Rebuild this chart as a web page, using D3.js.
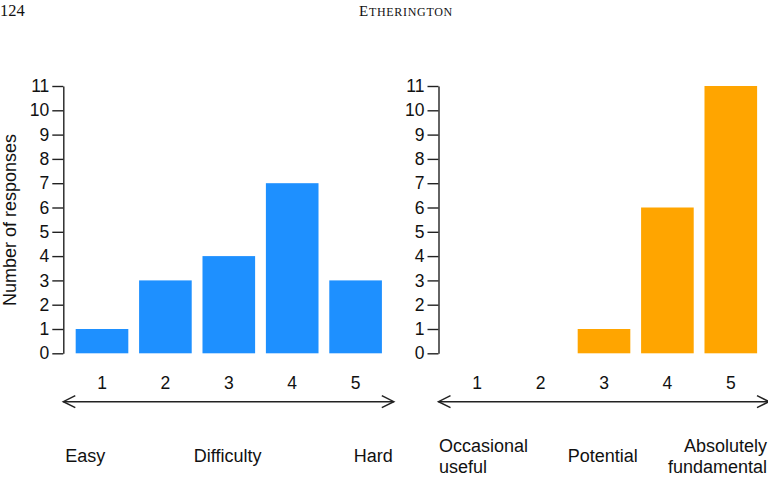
<!DOCTYPE html>
<html>
<head>
<meta charset="utf-8">
<script src="https://cdn.jsdelivr.net/npm/d3@7"></script>
<style>
  body { margin: 0; background: #fff; }
  svg text { font-family: "Liberation Sans", Arial, sans-serif; fill: #111; }
  .page-head text { font-family: "Liberation Serif", "Times New Roman", serif; }
  .axis path, .axis line { stroke: #222; stroke-width: 1.4; }
  .axis text { font-size: 17.5px; fill: #111; }
</style>
</head>
<body>
<svg id="chart"></svg>
<script>
// data
const categories = ['1', '2', '3', '4', '5'];
const difficultyCounts = [1, 3, 4, 7, 3];
const importanceCounts = [0, 0, 1, 6, 11];
const yTickValues = [0, 1, 2, 3, 4, 5, 6, 7, 8, 9, 10, 11];
const difficultyLabels = ['Easy', 'Difficulty', 'Hard'];
const importanceLabels = [['Occasional', 'useful'], ['Potential'], ['Absolutely', 'fundamental']];

const width = 768, height = 484;
const svg = d3.select('#chart').attr('width', width).attr('height', height);

// running header of the page
const head = svg.append('g').attr('class', 'page-head');
head.append('text').attr('x', 0).attr('y', 15.5).style('font-size', '16.5px').text('124');
const runner = head.append('text')
    .attr('x', 406).attr('y', 15.5)
    .attr('text-anchor', 'middle')
    .style('letter-spacing', '0.7px');
runner.append('tspan').style('font-size', '15px').text('E');
runner.append('tspan').style('font-size', '12px').text('THERINGTON');

const yScale = d3.scaleLinear().domain([0, 11]).range([353.3, 86]);

function drawPanel(axisX, counts, color) {
  const xScale = d3.scaleBand()
      .domain(categories)
      .range([axisX + 7, axisX + 324])
      .paddingInner(0.17)
      .paddingOuter(0.085);

  const g = svg.append('g');

  // y axis
  g.append('g')
      .attr('class', 'axis')
      .attr('transform', `translate(${axisX},0)`)
      .call(d3.axisLeft(yScale).tickValues(yTickValues).tickSize(11).tickSizeOuter(0).tickPadding(3));
  g.selectAll('.axis .domain').attr('fill', 'none');

  // bars
  const rows = categories.map((c, i) => ({ key: c, count: counts[i] }));
  g.selectAll('.bar')
      .data(rows.filter(d => d.count > 0))
      .join('rect')
      .attr('class', 'bar')
      .attr('x', d => xScale(d.key))
      .attr('width', xScale.bandwidth())
      .attr('y', d => yScale(d.count))
      .attr('height', d => yScale(0) - yScale(d.count))
      .attr('fill', color);

  // category numbers under the bars
  g.selectAll('.cat')
      .data(categories)
      .join('text')
      .attr('class', 'cat')
      .attr('x', d => xScale(d) + xScale.bandwidth() / 2)
      .attr('y', 383)
      .attr('dominant-baseline', 'central')
      .attr('text-anchor', 'middle')
      .style('font-size', '17.5px')
      .text(d => d);

  // double headed arrow
  const ay = 401.7, x0 = axisX, x1 = axisX + 330.5;
  const arrow = g.append('g').attr('fill', 'none').attr('stroke', '#222').attr('stroke-width', 1.5);
  arrow.append('line').attr('x1', x0).attr('x2', x1).attr('y1', ay).attr('y2', ay);
  arrow.append('path').attr('d', `M${x0 + 12},${ay - 6}L${x0},${ay}L${x0 + 12},${ay + 6}`);
  arrow.append('path').attr('d', `M${x1 - 12},${ay - 6}L${x1},${ay}L${x1 - 12},${ay + 6}`);

  return { g, x0, x1 };
}

const left = drawPanel(63.3, difficultyCounts, '#1E90FF');
const right = drawPanel(438.5, importanceCounts, '#FFA500');

// y axis title
svg.append('text')
    .attr('transform', 'translate(10,220) rotate(-90)')
    .attr('text-anchor', 'middle')
    .attr('dominant-baseline', 'central')
    .style('font-size', '18px')
    .text('Number of responses');

// scale end labels, left panel
const leftPos = [[left.x0 + 2, 'start'], [(left.x0 + left.x1) / 2 - 1, 'middle'], [left.x1 - 1, 'end']];
svg.selectAll('.dlab')
    .data(difficultyLabels)
    .join('text')
    .attr('class', 'dlab')
    .attr('x', (d, i) => leftPos[i][0])
    .attr('y', 456)
    .attr('text-anchor', (d, i) => leftPos[i][1])
    .attr('dominant-baseline', 'central')
    .style('font-size', '18px')
    .text(d => d);

// scale end labels, right panel
const rightPos = [[right.x0 + 0.5, 'start'], [602.7, 'middle'], [767, 'end']];
importanceLabels.forEach((lines, i) => {
  const t = svg.append('text')
      .attr('x', rightPos[i][0])
      .attr('text-anchor', rightPos[i][1])
      .attr('dominant-baseline', 'central')
      .style('font-size', '18px');
  const top = 456 - (lines.length - 1) * 10.5;
  lines.forEach((line, j) => {
    t.append('tspan').attr('x', rightPos[i][0]).attr('y', top + j * 21).text(line);
  });
});
</script>
</body>
</html>
